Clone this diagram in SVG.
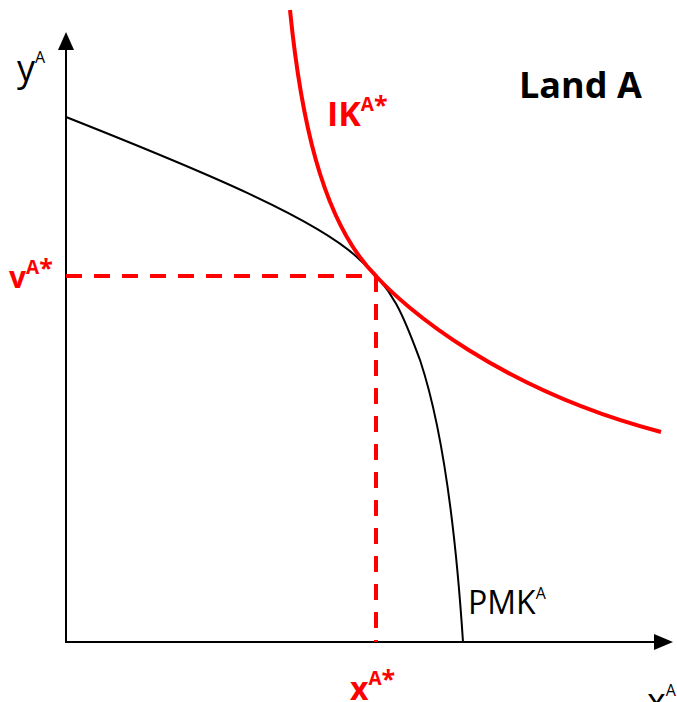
<svg xmlns="http://www.w3.org/2000/svg" width="677" height="702" viewBox="0 0 677 702">
<style>
.t{font-family:"Open Sans","Noto Sans",sans-serif}
.r{fill:#ff0000;font-weight:bold}
.s{font-size:25px}
.ax{stroke:#000;stroke-width:2;fill:none}
.d{stroke:#ff0000;stroke-width:4;stroke-dasharray:16 12;fill:none}
</style>
<rect width="677" height="702" fill="#fff"/>
<g id="axes">
<line class="ax" x1="66" y1="643" x2="66" y2="48"/>
<path d="M58,50 L66,32 L74,50 Z" fill="#000"/>
<line class="ax" x1="65" y1="642" x2="656" y2="642"/>
<path d="M654,634 L673,642 L654,650 Z" fill="#000"/>
</g>
<g id="connectors">
<path class="d" d="M66,276 L376,276"/>
<path class="d" d="M376,276 L376,642"/>
</g>
<g id="pmk">
<path d="M66,117 C200,170 320,220 360,260 C395,290 405,320 420,360 C440,420 455,520 463,642" stroke="#000" stroke-width="2" fill="none"/>
</g>
<g id="ik">
<path d="M290,10 C300,110 320,220 376,276 C405,308 500,390 661,432" stroke="#ff0000" stroke-width="4" fill="none"/>
</g>
<g id="labels">
<text class="t" x="17" y="81" font-size="36">y<tspan font-size="16" dy="-18">A</tspan></text>
<text class="t" x="647" y="714" font-size="36">x<tspan font-size="16" dy="-18">A</tspan></text>
<text class="t" x="519" y="98" font-size="36" font-weight="bold">Land A</text>
<text class="t r" x="327" y="126" font-size="34">IK<tspan font-size="19" dy="-15">A</tspan><tspan class="s" dy="3">*</tspan></text>
<text class="t r" x="9" y="288" font-size="30">v<tspan font-size="19" dy="-14">A</tspan><tspan class="s" dy="3">*</tspan></text>
<text class="t r" x="350" y="700" font-size="32">x<tspan font-size="19" dy="-15">A</tspan><tspan class="s" dy="3">*</tspan></text>
<text class="t" x="468" y="614" font-size="32">PMK<tspan font-size="16" dy="-15">A</tspan></text>
</g>
</svg>
